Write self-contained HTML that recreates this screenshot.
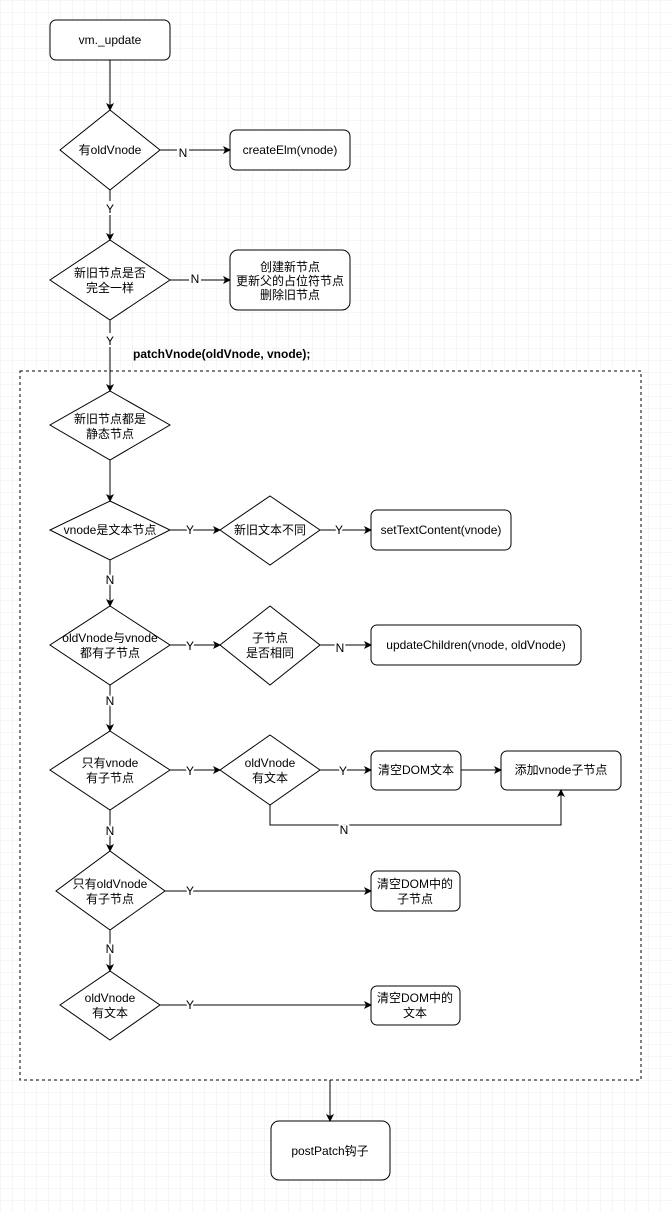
<!DOCTYPE html>
<html><head><meta charset="utf-8"><style>
html,body{margin:0;padding:0;background:#fff}
svg{display:block}
text{font-family:"Liberation Sans","Noto Sans CJK SC",sans-serif;font-size:12px;fill:#000}
</style></head><body>
<svg width="672" height="1212" viewBox="0 0 672 1212" xmlns="http://www.w3.org/2000/svg">
<defs>
<pattern id="g" width="12" height="12" patternUnits="userSpaceOnUse"><path d="M12 0H0V12" fill="none" stroke="#ececec" stroke-width="1"/></pattern>
<marker id="a" markerWidth="8" markerHeight="8" refX="7" refY="4" orient="auto" markerUnits="userSpaceOnUse"><path d="M0,0 L8,4 L0,8 L2,4 Z" fill="#000"/></marker>
</defs>
<rect width="672" height="1212" fill="url(#g)"/>
<rect x="20" y="371" width="621" height="709" fill="#fff" stroke="#000" stroke-dasharray="3,3"/>
<g fill="#fff" stroke="#000" stroke-width="1">
<rect x="50" y="20" width="120" height="40" rx="6"/>
<polygon points="110,110 160,150 110,190 60,150"/>
<rect x="230" y="130" width="120" height="40" rx="6"/>
<polygon points="110,240 170,280 110,320 50,280"/>
<rect x="230" y="250" width="120" height="60" rx="8"/>
<polygon points="110,391 170,425 110,460 50,425"/>
<polygon points="110,501 170,530 110,560 50,530"/>
<polygon points="270,496 320,530 270,565 220,530"/>
<rect x="371" y="510" width="140" height="40" rx="6"/>
<polygon points="110,606 170,645 110,685 50,645"/>
<polygon points="270,606 320,645 270,685 220,645"/>
<rect x="371" y="625" width="210" height="40" rx="6"/>
<polygon points="110,731 170,770 110,810 50,770"/>
<polygon points="270,735 320,770 270,805 220,770"/>
<rect x="371" y="751" width="90" height="39" rx="6"/>
<rect x="501" y="751" width="120" height="39" rx="6"/>
<polygon points="110,851 165,891 110,930 56,891"/>
<rect x="371" y="871" width="89" height="40" rx="6"/>
<polygon points="110,971 160,1005 110,1040 60,1005"/>
<rect x="371" y="986" width="89" height="39" rx="6"/>
<rect x="271" y="1121" width="119" height="59" rx="8"/>
</g>
<g stroke="#000" fill="none" marker-end="url(#a)">
<path d="M110 60V110"/>
<path d="M160 150H230"/>
<path d="M110 190V240"/>
<path d="M170 280H230"/>
<path d="M110 320V391"/>
<path d="M110 460V501"/>
<path d="M170 530H220"/>
<path d="M320 530H371"/>
<path d="M110 560V606"/>
<path d="M170 645H220"/>
<path d="M320 645H371"/>
<path d="M110 685V731"/>
<path d="M170 770H220"/>
<path d="M320 770H371"/>
<path d="M461 770H501"/>
<path d="M270 805V825H561V790"/>
<path d="M110 810V851"/>
<path d="M165 891H371"/>
<path d="M110 930V971"/>
<path d="M160 1005H371"/>
<path d="M330 1080V1121"/>
</g>
<g text-anchor="middle">
<g fill="#fff"><rect x="177" y="144" width="12" height="14" fill="#fff"/><rect x="104" y="201" width="12" height="14" fill="#fff"/><rect x="189" y="272" width="12" height="14" fill="#fff"/><rect x="104" y="333" width="12" height="14" fill="#fff"/></g>
<text x="110" y="44">vm._update</text>
<text x="110" y="154">有oldVnode</text>
<text x="290" y="154">createElm(vnode)</text>
<text x="183" y="157">N</text>
<text x="110" y="213">Y</text>
<text x="110" y="277">新旧节点是否</text><text x="110" y="292">完全一样</text>
<text x="290" y="271">创建新节点</text><text x="290" y="285">更新父的占位符节点</text><text x="290" y="299">删除旧节点</text>
<text x="195" y="283">N</text>
<text x="110" y="345">Y</text>
<text x="133" y="358" text-anchor="start" font-weight="bold">patchVnode(oldVnode, vnode);</text>
<text x="110" y="423">新旧节点都是</text><text x="110" y="438">静态节点</text>
<text x="110" y="534">vnode是文本节点</text>
<text x="270" y="534">新旧文本不同</text>
<text x="441" y="534">setTextContent(vnode)</text>
<text x="476" y="649">updateChildren(vnode, oldVnode)</text>
<text x="110" y="642">oldVnode与vnode</text><text x="110" y="657">都有子节点</text>
<text x="270" y="642">子节点</text><text x="270" y="657">是否相同</text>
<text x="110" y="767">只有vnode</text><text x="110" y="782">有子节点</text>
<text x="270" y="767">oldVnode</text><text x="270" y="782">有文本</text>
<text x="416" y="774">清空DOM文本</text>
<text x="561" y="774">添加vnode子节点</text>
<text x="110" y="888">只有oldVnode</text><text x="110" y="903">有子节点</text>
<text x="415" y="888">清空DOM中的</text><text x="415" y="903">子节点</text>
<text x="110" y="1002">oldVnode</text><text x="110" y="1017">有文本</text>
<text x="415" y="1002">清空DOM中的</text><text x="415" y="1017">文本</text>
<text x="330" y="1155">postPatch钩子</text>
</g>
<g text-anchor="middle" style="paint-order:stroke" stroke="#fff" stroke-width="4">
<text x="190" y="534">Y</text><text x="339" y="534">Y</text>
<text x="110" y="584">N</text>
<text x="190" y="650">Y</text><text x="340" y="652">N</text>
<text x="110" y="705">N</text>
<text x="190" y="775">Y</text><text x="343" y="775">Y</text>
<text x="344" y="834">N</text>
<text x="110" y="835">N</text>
<text x="190" y="895">Y</text>
<text x="110" y="953">N</text>
<text x="190" y="1009">Y</text>
</g>
</svg>
</body></html>
